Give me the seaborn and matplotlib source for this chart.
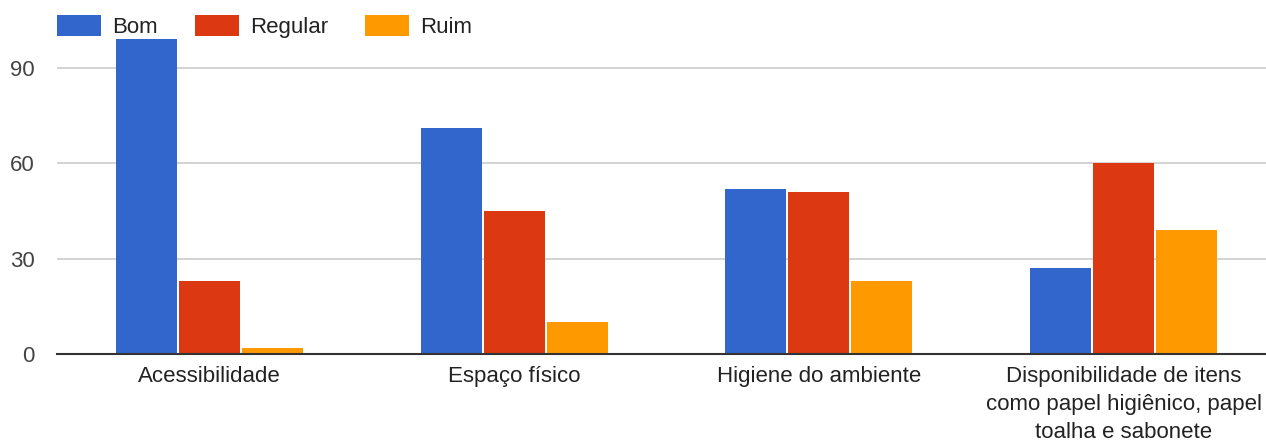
import matplotlib
matplotlib.use("Agg")
import matplotlib.pyplot as plt
import seaborn as sns
import pandas as pd
from matplotlib.patches import Patch

categories = [
    "Acessibilidade",
    "Espaço físico",
    "Higiene do ambiente",
    "Disponibilidade de itens\ncomo papel higiênico, papel\ntoalha e sabonete",
]
series_names = ["Bom", "Regular", "Ruim"]
bom = [99, 71, 52, 27]
regular = [23, 45, 51, 60]
ruim = [2, 10, 23, 39]
yticks = [0, 30, 60, 90]
colors = ["#3366CC", "#DC3912", "#FF9900"]

rows = []
for name, vals in zip(series_names, [bom, regular, ruim]):
    for cat, v in zip(categories, vals):
        rows.append({"categoria": cat, "avaliacao": name, "valor": v})
df = pd.DataFrame(rows)

sns.set_theme(style="white")
plt.rcParams["font.family"] = ["Liberation Sans", "DejaVu Sans"]

FS = 16

fig = plt.figure(figsize=(12.66, 4.41), dpi=100)
ax = fig.add_axes([57 / 1266, 1 - 354 / 441, 1 - 57 / 1266, (354 - 36) / 441])

sns.barplot(
    data=df, x="categoria", y="valor", hue="avaliacao",
    order=categories, hue_order=series_names,
    palette=colors, width=0.62, gap=0.03, saturation=1,
    linewidth=0, ax=ax, legend=False,
)

ax.set_ylim(0, 100)
ax.set_xlim(-0.5, 3.467)
ax.set_yticks(yticks)
ax.set_yticklabels([str(t) for t in yticks])
ax.yaxis.grid(True, color="#cccccc", linewidth=1.2)
ax.set_axisbelow(True)
ax.set_xlabel("")
ax.set_ylabel("")
for s in ["top", "right", "left"]:
    ax.spines[s].set_visible(False)
ax.spines["bottom"].set_color("#333333")
ax.spines["bottom"].set_linewidth(1.5)
ax.spines["bottom"].set_zorder(5)
ax.tick_params(axis="y", length=0, pad=16, labelsize=FS, labelcolor="#444444")
ax.tick_params(axis="x", length=0, pad=8.5, labelsize=FS, labelcolor="#222222")
for lbl in ax.get_xticklabels():
    lbl.set_linespacing(1.45)
    lbl.set_verticalalignment("top")

handles = [Patch(facecolor=c, edgecolor="none") for c in colors]
fig.legend(
    handles, series_names, loc="upper left", bbox_to_anchor=(46 / 1266, 1 - 4 / 441),
    ncol=3, frameon=False, fontsize=FS, handlelength=1.98, handleheight=1.05,
    handletextpad=0.5, columnspacing=1.67, labelcolor="#222222",
    borderpad=0.0,
)

fig.savefig("out.png", dpi=100, facecolor="white")
